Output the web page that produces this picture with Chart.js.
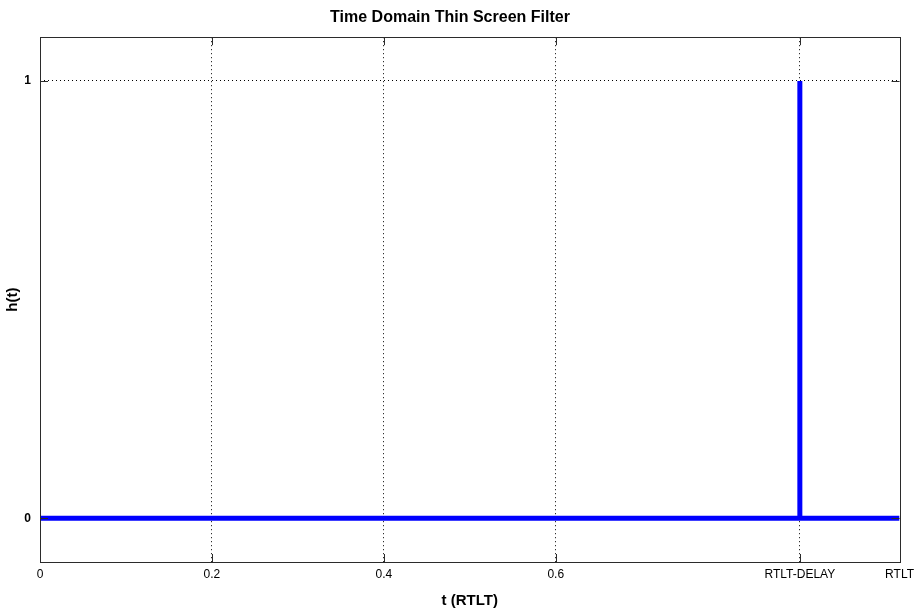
<!DOCTYPE html>
<html>
<head>
<meta charset="utf-8">
<script src="https://cdn.jsdelivr.net/npm/chart.js"></script>
<style>
  html, body { margin: 0; padding: 0; background: #fff; }
  canvas { display: block; }
</style>
</head>
<body>
<canvas id="chart" width="919" height="610"></canvas>
<script>
  // chart data
  const xTickValues = [0, 0.2, 0.4, 0.6, 0.884, 1];
  const xTickLabels = ['0', '0.2', '0.4', '0.6', 'RTLT-DELAY', 'RTLT'];
  const yTickValues = [0, 1];
  const yTickLabels = ['0', '1'];
  const baseX = [0, 1];
  const baseY = [0, 0];
  const spikeX = [0.884, 0.884];
  const spikeY = [0, 1];

  const FONT = "'Liberation Sans', Arial, Helvetica, sans-serif";
  const BLUE = 'rgb(0,0,255)';

  function toPoints(xs, ys) {
    return xs.map((x, i) => ({ x: x, y: ys[i] }));
  }

  // box round the plot plus small inward ticks (matlab style)
  const boxPlugin = {
    id: 'boxPlugin',
    afterDatasetsDraw(chart) {
      const { ctx, chartArea: a, scales } = chart;
      const len = 8;
      ctx.save();
      ctx.strokeStyle = '#2b2b2b';
      ctx.lineWidth = 1;
      ctx.beginPath();
      xTickValues.forEach((v) => {
        const px = Math.round(scales.x.getPixelForValue(v)) + 0.5;
        ctx.moveTo(px, a.bottom);
        ctx.lineTo(px, a.bottom - len);
        ctx.moveTo(px, a.top);
        ctx.lineTo(px, a.top + len);
      });
      yTickValues.forEach((v) => {
        const py = Math.round(scales.y.getPixelForValue(v)) + 0.5;
        ctx.moveTo(a.left, py);
        ctx.lineTo(a.left + len, py);
        ctx.moveTo(a.right, py);
        ctx.lineTo(a.right - len, py);
      });
      ctx.stroke();
      ctx.strokeRect(Math.round(a.left) + 0.5, Math.round(a.top) + 0.5,
        Math.round(a.right - a.left), Math.round(a.bottom - a.top));
      ctx.restore();
    }
  };

  new Chart(document.getElementById('chart'), {
    type: 'line',
    data: {
      datasets: [
        {
          data: toPoints(baseX, baseY),
          borderColor: BLUE,
          borderWidth: 5,
          pointRadius: 0,
          tension: 0,
        },
        {
          data: toPoints(spikeX, spikeY),
          borderColor: BLUE,
          borderWidth: 5,
          pointRadius: 0,
          tension: 0,
        },
      ],
    },
    options: {
      responsive: false,
      animation: false,
      layout: { padding: { top: 0, right: 19, bottom: 0, left: 0 } },
      plugins: {
        legend: { display: false },
        tooltip: { enabled: false },
        title: {
          display: true,
          text: 'Time Domain Thin Screen Filter',
          color: '#000',
          font: { family: FONT, size: 16, weight: 'bold' },
          padding: { top: 8, bottom: 10 },
        },
      },
      scales: {
        x: {
          type: 'linear',
          min: 0,
          max: 1,
          afterBuildTicks: (s) => { s.ticks = xTickValues.map((v) => ({ value: v })); },
          afterFit: (s) => { s.height = 48; },
          ticks: {
            autoSkip: false,
            maxRotation: 0,
            padding: 5,
            color: '#000',
            font: { family: FONT, size: 12 },
            callback: (v) => xTickLabels[xTickValues.indexOf(v)],
          },
          grid: {
            drawTicks: false,
            lineWidth: 1,
            color: (c) => (c.tick && (c.tick.value === 0 || c.tick.value === 1)) ? 'rgba(0,0,0,0)' : '#000',
          },
          border: { display: false, dash: [1, 3] },
          title: {
            display: true,
            text: 't (RTLT)',
            color: '#000',
            font: { family: FONT, size: 15, weight: 'bold' },
            padding: { top: 0, bottom: 0 },
          },
        },
        y: {
          type: 'linear',
          min: -0.1,
          max: 1.1,
          afterBuildTicks: (s) => { s.ticks = yTickValues.map((v) => ({ value: v })); },
          afterFit: (s) => { s.width = 40; },
          ticks: {
            padding: 9,
            color: '#000',
            font: { family: FONT, size: 12, weight: 'bold' },
            callback: (v) => yTickLabels[yTickValues.indexOf(v)],
          },
          grid: { drawTicks: false, lineWidth: 1, color: '#000' },
          border: { display: false, dash: [1, 3] },
          title: {
            display: true,
            text: 'h(t)',
            color: '#000',
            font: { family: FONT, size: 15, weight: 'bold' },
            padding: { top: 4, bottom: 0 },
          },
        },
      },
    },
    plugins: [boxPlugin],
  });
</script>
</body>
</html>
